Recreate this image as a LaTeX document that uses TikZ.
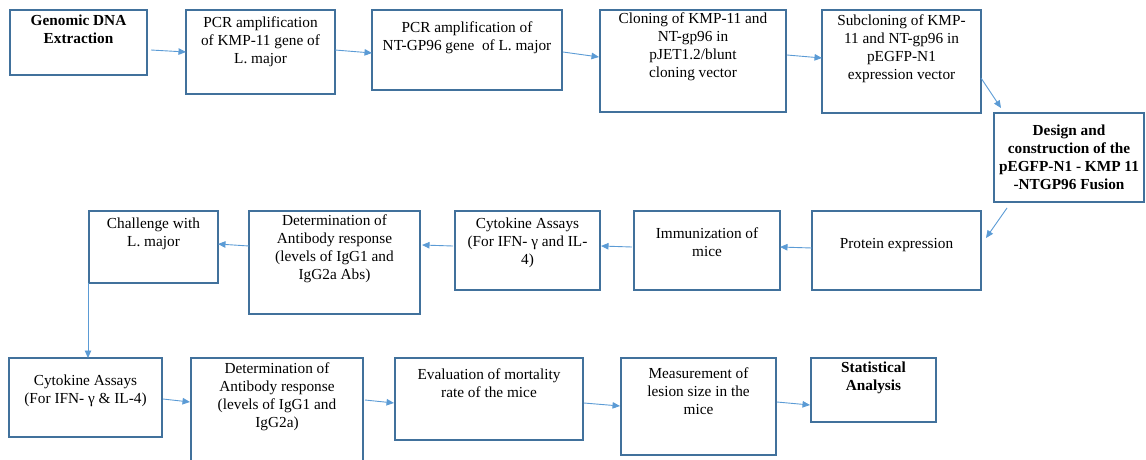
\documentclass[tikz,border=0pt]{standalone}
\usepackage{fontspec}
\setmainfont{Liberation Serif}
\usetikzlibrary{arrows.meta,fit}
\definecolor{boxc}{HTML}{41719C}
\definecolor{arrc}{HTML}{5B9BD5}
\begin{document}
\begin{tikzpicture}[x=1pt,y=-1pt,
 box/.style={draw=boxc, line width=1.1pt, inner sep=0pt, outer sep=0pt, rectangle},
 txt/.style={align=center, inner sep=0pt, anchor=north, yshift=-2.5pt, font=\fontsize{15.3}{18}\selectfont, execute at begin node=\strut},
 bold/.style={font=\fontsize{15.3}{18}\selectfont\bfseries},
 arr/.style={draw=arrc, line width=0.9pt, -{Triangle[length=7.5pt,width=6.5pt]}}]
\useasboundingbox (0,0) rectangle (1146,459);
% boxes
\node[box, fit={(10,10) (147,75)}] (b1) {};
\node[box, fit={(186,10) (335,94)}] (b2) {};
\node[box, fit={(372,10) (562,90)}] (b3) {};
\node[box, fit={(600,10) (786,112)}] (b4) {};
\node[box, fit={(822,10) (981,113)}] (b5) {};
\node[box, fit={(994,113) (1144,202)}] (b6) {};
\node[box, fit={(812,211) (981,290)}] (prot) {};
\node[box, fit={(634,211) (780,290)}] (imm) {};
\node[box, fit={(455,211) (600,290)}] (cyto) {};
\node[box, fit={(249,211) (420,314)}] (det) {};
\node[box, fit={(89,211) (218,283)}] (ch) {};
\node[box, fit={(9,358) (162,437)}] (cyto2) {};
\node[box, fit={(191,358) (363,466)}] (det2) {};
\node[box, fit={(395,358) (583,440)}] (eval) {};
\node[box, fit={(621,358) (776,455)}] (meas) {};
\node[box, fit={(811,358) (936,422)}] (stat) {};
% texts
\node[txt,bold] (t1) at ([yshift=-2.4pt]b1.north) {Genomic DNA\\Extraction};
\node[txt] (t2) at ([yshift=-4.4pt]b2.north) {PCR amplification\\of KMP-11 gene of\\L. major};
\node[txt] (t3) at ([yshift=-9.4pt]b3.north) {PCR amplification of\\NT-GP96 gene\ \ of L. major};
\node[txt] (t4) at ([yshift=-0.4pt]b4.north) {Cloning of KMP-11 and\\NT-gp96 in\\pJET1.2/blunt\\cloning vector};
\node[txt] (t5) at ([yshift=-2.4pt]b5.north) {Subcloning of KMP-\\11 and NT-gp96 in\\pEGFP-N1\\expression vector};
\node[txt,bold] (t6) at ([yshift=-9.4pt]b6.north) {Design and\\construction of the\\pEGFP-N1 - KMP 11\\-NTGP96 Fusion};
\node[txt] (t7) at ([yshift=-22.4pt]prot.north) {Protein expression};
\node[txt] (t8) at ([yshift=-14.4pt]imm.north) {Immunization of\\mice};
\node[txt] (t9) at ([yshift=-4.4pt]cyto.north) {Cytokine Assays\\(For IFN- γ and IL-\\4)};
\node[txt] (t10) at ([yshift=-1.4pt]det.north) {Determination of\\Antibody response\\(levels of IgG1 and\\IgG2a Abs)};
\node[txt] (t11) at ([yshift=-4.4pt]ch.north) {Challenge with\\L. major};
\node[txt] (t12) at ([yshift=-14.4pt]cyto2.north) {Cytokine Assays\\(For IFN- γ \& IL-4)};
\node[txt] (t13) at ([yshift=-2.4pt]det2.north) {Determination of\\Antibody response\\(levels of IgG1 and\\IgG2a)};
\node[txt] (t14) at ([yshift=-8.4pt]eval.north) {Evaluation of mortality\\rate of the mice};
\node[txt] (t15) at ([yshift=-7.4pt]meas.north) {Measurement of\\lesion size in the\\mice};
\node[txt,bold] (t16) at ([yshift=-1.4pt]stat.north) {Statistical\\Analysis};
% arrows
\draw[arr] ([shift={(4,7.5)}]b1.east) -- (b2.west);
\draw[arr] ([shift={(0,-2)}]b2.east) -- ([shift={(0,3)}]b3.west);
\draw[arr] ([shift={(1,2)}]b3.east) -- ([shift={(-1,-4)}]b4.west);
\draw[arr] ([shift={(1,-6)}]b4.east) -- ([shift={(0,-3.5)}]b5.west);
\draw[arr] ([shift={(0,16.5)}]b5.east) -- ([shift={(7,-5)}]b6.north west);
\draw[arr] ([shift={(13,6)}]b6.south west) -- ([shift={(5,-12.5)}]prot.east);
\draw[arr] ([shift={(0,-2.5)}]prot.west) -- ([shift={(0,-3.5)}]imm.east);
\draw[arr] ([shift={(-2,-3.5)}]imm.west) -- ([shift={(1,-4.5)}]cyto.east);
\draw[arr] ([shift={(-2,-4.5)}]cyto.west) -- ([shift={(2,-17.5)}]det.east);
\draw[arr] ([shift={(0,-16.5)}]det.west) -- ([shift={(0,-3)}]ch.east);
\draw[arr] ([shift={(-1,0)}]ch.south west) -- ([shift={(79,0)}]cyto2.north west);
\draw[arr] ([shift={(1,1.5)}]cyto2.east) -- ([shift={(-1,44)}]det2.north west);
\draw[arr] ([shift={(2,42)}]det2.north east) -- ([shift={(-1,4)}]eval.west);
\draw[arr] ([shift={(1,4)}]eval.east) -- ([shift={(-1,-0.5)}]meas.west);
\draw[arr] ([shift={(1,-4.5)}]meas.east) -- ([shift={(-1,15)}]stat.west);
\end{tikzpicture}
\end{document}
